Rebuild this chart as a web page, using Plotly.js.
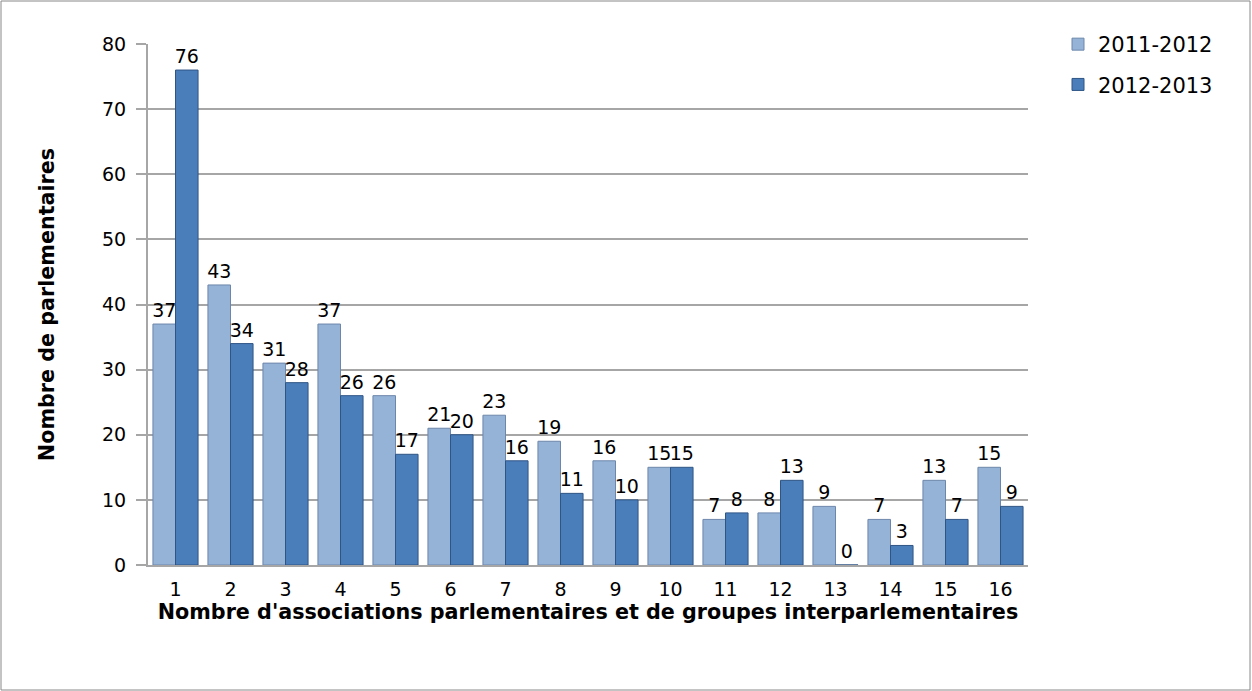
<!DOCTYPE html>
<html><head><meta charset="utf-8">
<script src="https://cdn.plot.ly/plotly-3.0.1.min.js"></script>
<style>body{margin:0;background:#fff}#c{width:1252px;height:691px}</style>
</head><body><div id="c"></div>
<script>
const categories = ['1','2','3','4','5','6','7','8','9','10','11','12','13','14','15','16'];
const s2011 = [37,43,31,37,26,21,23,19,16,15,7,8,9,7,13,15];
const s2012 = [76,34,28,26,17,20,16,11,10,15,8,13,0,3,7,9];
const seriesNames = ['2011-2012','2012-2013'];
const font = '"DejaVu Sans", sans-serif';
const mk = (y, name, color, dark, grp) => ({
  type:'bar', x:categories, y:y, name:name, legendgroup:grp,
  marker:{color:color, line:{color:dark, width:1}},
  text:y.map(String), textposition:'outside', cliponaxis:false, constraintext:'none',
  textfont:{family:font, size:19, color:'#000'}
});
const data = [
  mk(s2011, seriesNames[0], '#95b3d7', '#6d87ab', 'a'),
  mk(s2012, seriesNames[1], '#4a7ebb', '#2f5585', 'b')
];
const W = 1252, H = 691, L = 148, R = 224, T = 44, B = 126;
const pw = W - L - R, ph = H - T - B;
const layout = {
  width:W, height:H,
  margin:{l:L, r:R, t:T, b:B},
  paper_bgcolor:'#fff', plot_bgcolor:'#fff',
  barmode:'group', bargap:0.18, bargroupgap:0,
  font:{family:font, size:19, color:'#000'},
  xaxis:{type:'category', showgrid:false, showline:true, linecolor:'#a6a6a6', linewidth:2,
    ticks:'', tickfont:{size:19}, ticklabelstandoff:6,
    title:{text:"Nombre d'associations parlementaires et de groupes interparlementaires", font:{size:20.7, family:font, weight:'bold'}, standoff:4}},
  yaxis:{range:[0,80], dtick:10, showgrid:true, gridcolor:'#a6a6a6', gridwidth:2,
    showline:true, linecolor:'#a6a6a6', linewidth:2, ticks:'outside', ticklen:10, tickcolor:'#a6a6a6', tickwidth:2,
    tickfont:{size:19}, zeroline:false, ticklabelstandoff:6,
    title:{text:'Nombre de parlementaires', font:{size:20.7, family:font, weight:'bold'}, standoff:42}},
  legend:{x:(1058 - L)/pw, xanchor:'left', y:1 + 20/ph, yanchor:'top', font:{size:21}, tracegroupgap:10, bgcolor:'rgba(0,0,0,0)'},
  shapes:[{type:'rect', xref:'paper', yref:'paper',
    x0:(1 - L)/pw, x1:(1250 - L)/pw, y0:-(690 - T - ph)/ph, y1:1 + (T - 1)/ph,
    line:{color:'#888', width:1}}]
};
Plotly.newPlot('c', data, layout, {displayModeBar:false});
</script></body></html>
